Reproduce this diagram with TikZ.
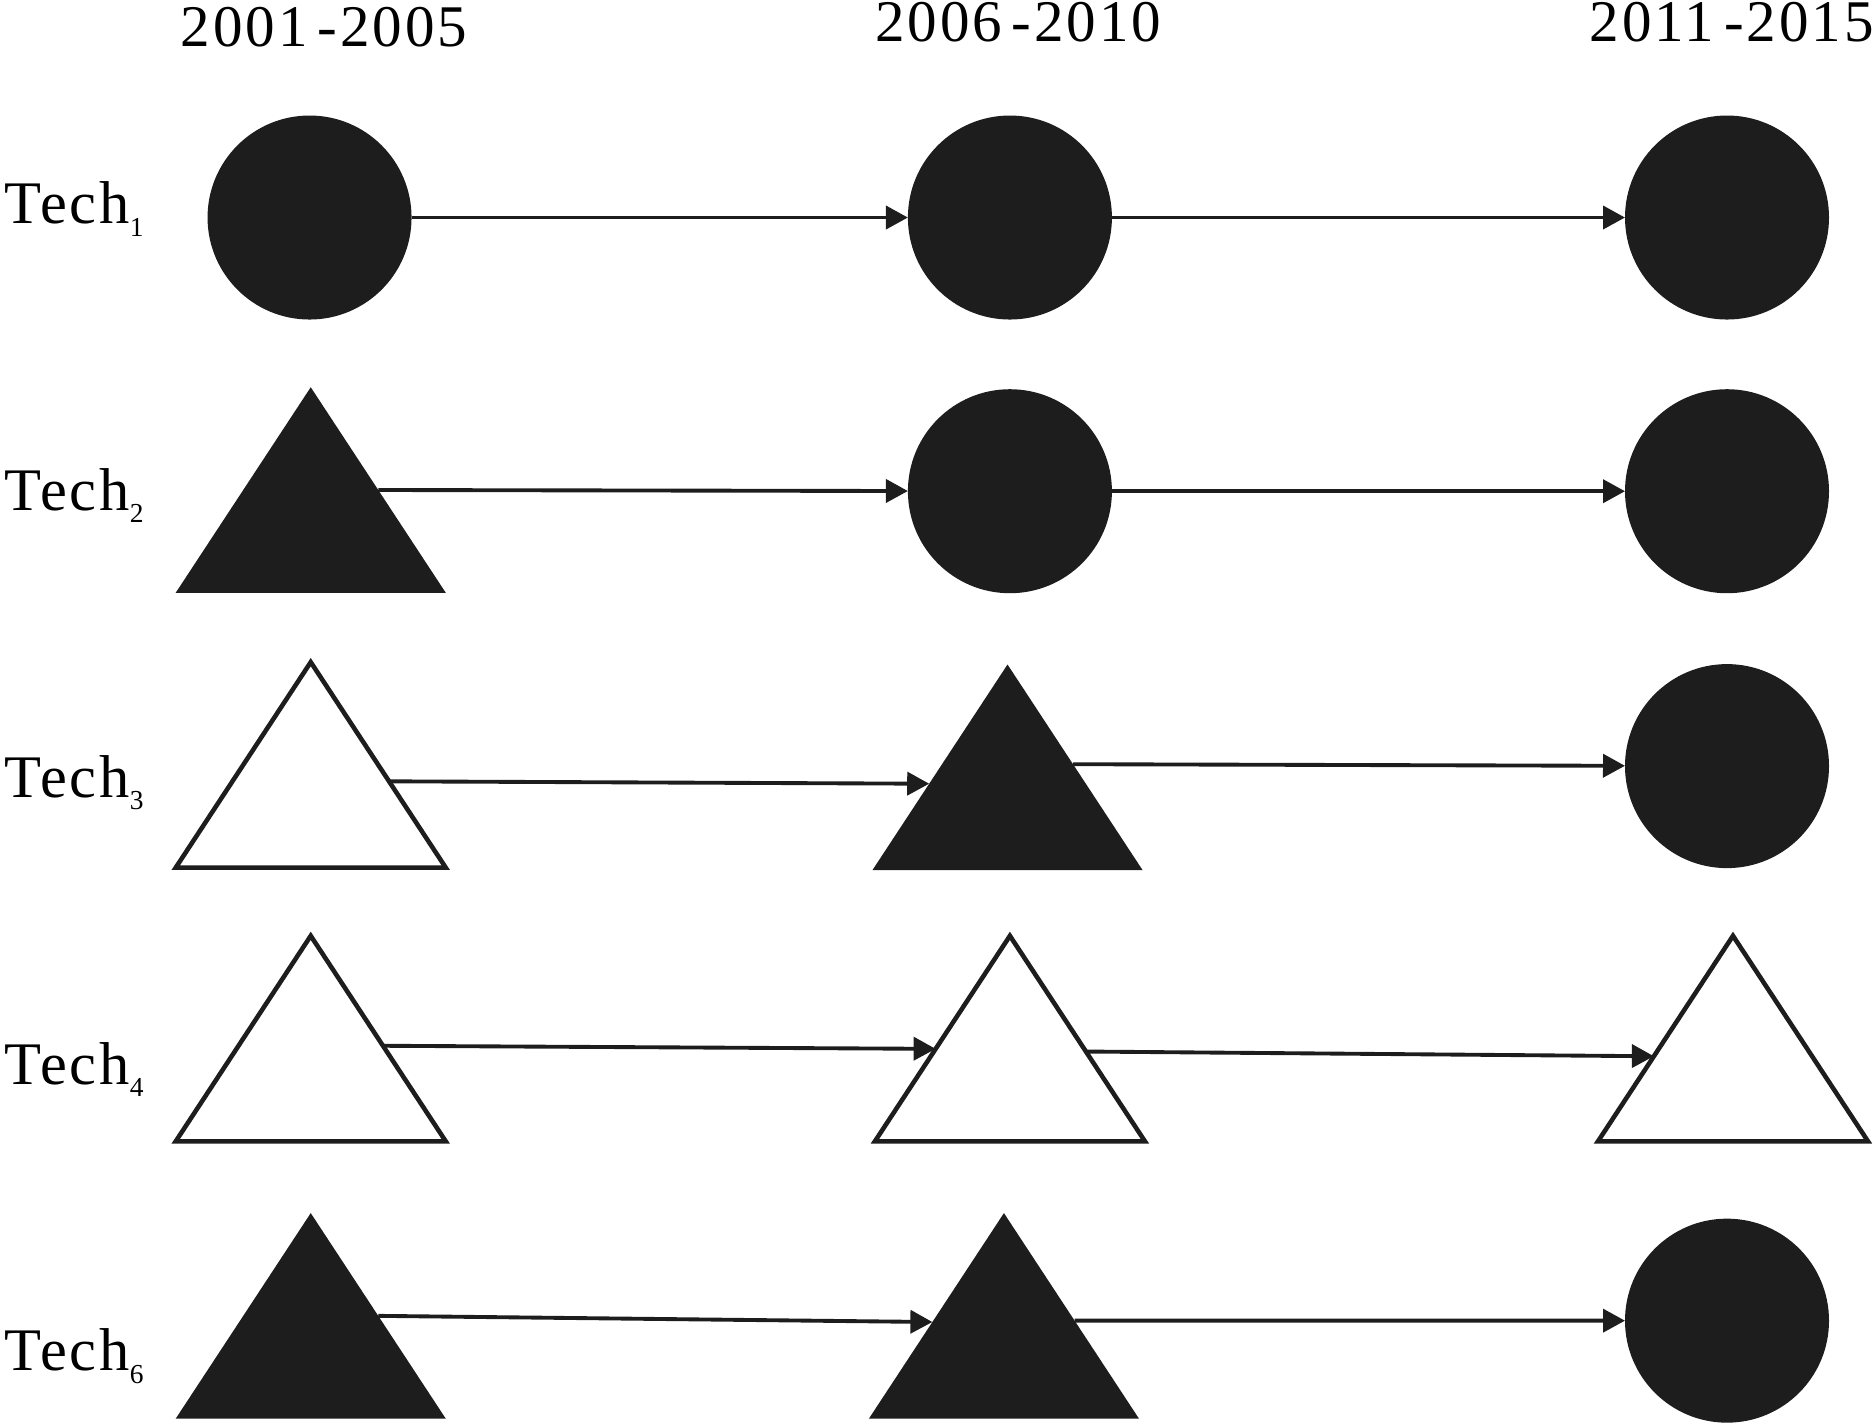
\documentclass[tikz,border=0pt]{standalone}
\usepackage{fontspec}
\setmainfont{Liberation Serif}
\newfontfamily\spacedserif[LetterSpace=5]{Liberation Serif}
\usepackage{tikz}
\usetikzlibrary{arrows.meta,positioning,calc,shapes.geometric}
\definecolor{Ink}{HTML}{1D1D1D}
\newcommand{\techsub}[1]{\raisebox{-3.6pt}{\fontsize{7.8}{9}\selectfont #1}}

\begin{document}
\begin{tikzpicture}[
    x=0.1195mm, y=-0.1195mm,
    font=\fontsize{17.2}{20}\selectfont,
    dot/.style={circle, fill=Ink, minimum size=20.4mm, inner sep=0pt, outer sep=0pt},
    tri/.style={isosceles triangle, isosceles triangle stretches, shape border rotate=90, minimum width=27mm, minimum height=20.55mm, inner sep=0pt, outer sep=0pt, anchor=apex},
    solidtri/.style={tri, fill=Ink},
    opentri/.style={tri, draw=Ink, line width=1.3pt, fill=white},
    lab/.style={anchor=base west, inner sep=0pt, font=\spacedserif\fontsize{17.2}{20}\selectfont},
    yr/.style={anchor=base, inner sep=0pt, font=\spacedserif\fontsize{16.8}{20}\selectfont},
    arr/.style={-{Triangle[length=2.2mm, width=2.3mm]}, line width=1.1pt, draw=Ink}
]
\useasboundingbox (0,0) rectangle (1568,1192);
% period headings
\node[yr] (yrA) at (271,39) {2001\,-2005};
\node[yr] (yrB) at (852,35) {2006\,-2010};
\node[yr] (yrC) at (1449,35) {2011\,-2015};
% row labels
\node[lab] (labA) at (3,187) {Tech\techsub{1}};
\node[lab] (labB) at (3,427) {Tech\techsub{2}};
\node[lab] (labC) at (3,667) {Tech\techsub{3}};
\node[lab] (labD) at (3,907) {Tech\techsub{4}};
\node[lab] (labE) at (3,1147) {Tech\techsub{6}};
% Tech 1
\node[dot] (c11) at (259,182) {};
\node[dot] (c12) at (845,182) {};
\node[dot] (c13) at (1445,182) {};
% Tech 2 (triangles placed by apex)
\node[solidtri] (t21) at (260,324) {};
\node[dot] (c22) at (845,411) {};
\node[dot] (c23) at (1445,411) {};
% Tech 3
\node[opentri] (t31) at (260,554) {};
\node[solidtri] (t32) at (843,556) {};
\node[dot] (c33) at (1445,641) {};
% Tech 4
\node[opentri] (t41) at (260,783) {};
\node[opentri] (t42) at (845,783) {};
\node[opentri] (t43) at (1450,783) {};
% Tech 6
\node[solidtri] (t61) at (260,1015) {};
\node[solidtri] (t62) at (840,1015) {};
\node[dot] (c63) at (1445,1105) {};
% transitions
\draw[arr] (c11) -- (c12);
\draw[arr] (c12) -- (c13);
\draw[arr] (t21.right side) -- (c22);
\draw[arr] (c22) -- (c23);
\draw[arr] ($(t31.apex)!0.58!(t31.right corner)$) -- ($(t32.apex)!0.58!(t32.left corner)$);
\draw[arr] ($(t32.apex)!0.485!(t32.right corner)$) -- (c33);
\draw[arr] ($(t41.apex)!0.535!(t41.right corner)$) -- ($(t42.apex)!0.55!(t42.left corner)$);
\draw[arr] ($(t42.apex)!0.563!(t42.right corner)$) -- ($(t43.apex)!0.586!(t43.left corner)$);
\draw[arr] (t61.right side) -- ($(t62.apex)!0.53!(t62.left corner)$);
\draw[arr] ($(t62.apex)!0.523!(t62.right corner)$) -- (c63);
\end{tikzpicture}
\end{document}
